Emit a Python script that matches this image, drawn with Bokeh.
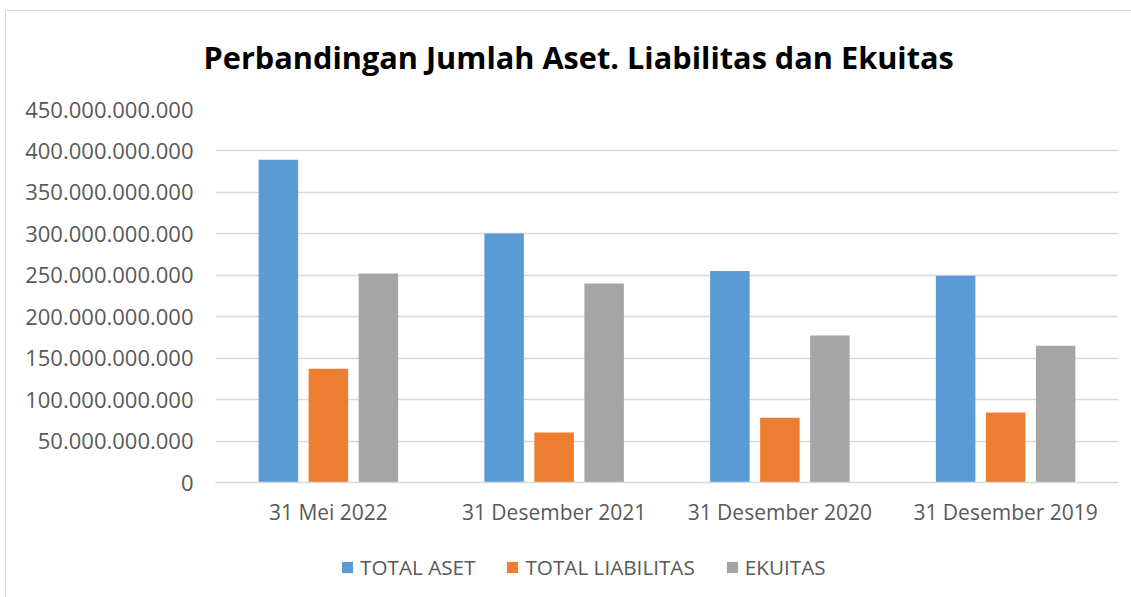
from bokeh.plotting import figure
from bokeh.layouts import column
from bokeh.models import ColumnDataSource, Range1d, FactorRange, FixedTicker, Legend, LegendItem
from bokeh.transform import dodge
from bokeh.embed import file_html
from bokeh.resources import INLINE

categories = ["31 Mei 2022", "31 Desember 2021", "31 Desember 2020", "31 Desember 2019"]
total_aset = [389.5e9, 300.5e9, 255.3e9, 249.3e9]
total_liabilitas = [137.2e9, 60.3e9, 78.1e9, 84.4e9]
ekuitas = [252.1e9, 240.1e9, 177.2e9, 164.9e9]
series_names = ["TOTAL ASET", "TOTAL LIABILITAS", "EKUITAS"]
colors = ["#5B9BD5", "#ED7D31", "#A5A5A5"]
y_ticks = [0, 50e9, 100e9, 150e9, 200e9, 250e9, 300e9, 350e9, 400e9, 450e9]
y_tick_labels = ["0", "50.000.000.000", "100.000.000.000", "150.000.000.000", "200.000.000.000",
                 "250.000.000.000", "300.000.000.000", "350.000.000.000", "400.000.000.000",
                 "450.000.000.000"]

source = ColumnDataSource(dict(cat=categories, aset=total_aset, liab=total_liabilitas, ekuitas=ekuitas))
fields = ["aset", "liab", "ekuitas"]

FONT = "Open Sans"
TXT = "#595959"

p = figure(x_range=FactorRange(*categories, range_padding=0), y_range=Range1d(0, 450e9),
           width=1126, height=540, output_backend="svg", toolbar_location=None,
           min_border_left=210, min_border_right=13, min_border_top=109, min_border_bottom=58,
           title="Perbandingan Jumlah Aset. Liabilitas dan Ekuitas")
p.outline_line_color = None
p.background_fill_color = "white"
p.border_fill_alpha = 0

p.title.text_font = FONT
p.title.text_font_size = "30.7px"
p.title.text_font_style = "bold"
p.title.text_color = "#000000"
p.title.align = "left"
p.title.offset = -12
p.title.standoff = 64

offsets = [-0.2215, 0.0, 0.2215]
for f, off, c in zip(fields, offsets, colors):
    p.vbar(x=dodge("cat", off, range=p.x_range), top=f, width=0.175, source=source,
           fill_color=c, line_color=None)

p.xgrid.grid_line_color = None
p.ygrid.grid_line_color = "#D9D9D9"
p.ygrid.grid_line_width = 1.3
p.yaxis.ticker = FixedTicker(ticks=y_ticks)
p.yaxis.major_label_overrides = {t: l for t, l in zip(y_ticks, y_tick_labels)}
p.yaxis.axis_line_color = None
p.yaxis.major_tick_line_color = None
p.yaxis.minor_tick_line_color = None
p.yaxis.major_tick_out = 0
p.yaxis.major_label_standoff = 22
p.yaxis.major_label_text_font = FONT
p.yaxis.major_label_text_font_size = "22px"
p.yaxis.major_label_text_color = TXT

xax = p.below[0]
xax.axis_line_color = "#D9D9D9"
xax.axis_line_width = 1.3
xax.major_tick_line_color = None
xax.major_tick_out = 0
xax.major_label_standoff = 15
xax.major_label_text_font = FONT
xax.major_label_text_font_size = "21px"
xax.major_label_text_color = TXT

# legend strip
lg = figure(width=1126, height=57, output_backend="svg", toolbar_location=None,
            x_range=p.x_range, y_range=Range1d(0, 1),
            min_border_left=0, min_border_right=0, min_border_top=0, min_border_bottom=0)
lg.axis.visible = False
lg.grid.visible = False
lg.outline_line_color = None
lg.border_fill_alpha = 0
lg.background_fill_alpha = 0
proxies = []
for f, c in zip(fields, colors):
    proxies.append(lg.vbar(x="cat", top=f, bottom=f, width=0, source=source,
                           fill_color=c, line_color=None))

legend = Legend(items=[LegendItem(label=n, renderers=[r]) for n, r in zip(series_names, proxies)],
                orientation="horizontal", location=(125, 16))
legend.glyph_width = 14
legend.glyph_height = 14
legend.label_height = 14
legend.label_standoff = 6
legend.spacing = 30
legend.padding = 0
legend.margin = 0
legend.border_line_color = None
legend.background_fill_alpha = 0
legend.label_text_font = FONT
legend.label_text_font_size = "20.7px"
legend.label_text_color = TXT
lg.add_layout(legend, "center")

layout = column(p, lg, spacing=0)
layout.margin = (0, 0, 0, 5)
layout.styles = {
    "background": "linear-gradient(#D9D9D9, #D9D9D9) 0 10px / 100% 1px no-repeat, "
                  "linear-gradient(#D9D9D9, #D9D9D9) 0 10px / 1px 100% no-repeat, white"
}

open("out.html", "w").write(file_html(layout, INLINE))
